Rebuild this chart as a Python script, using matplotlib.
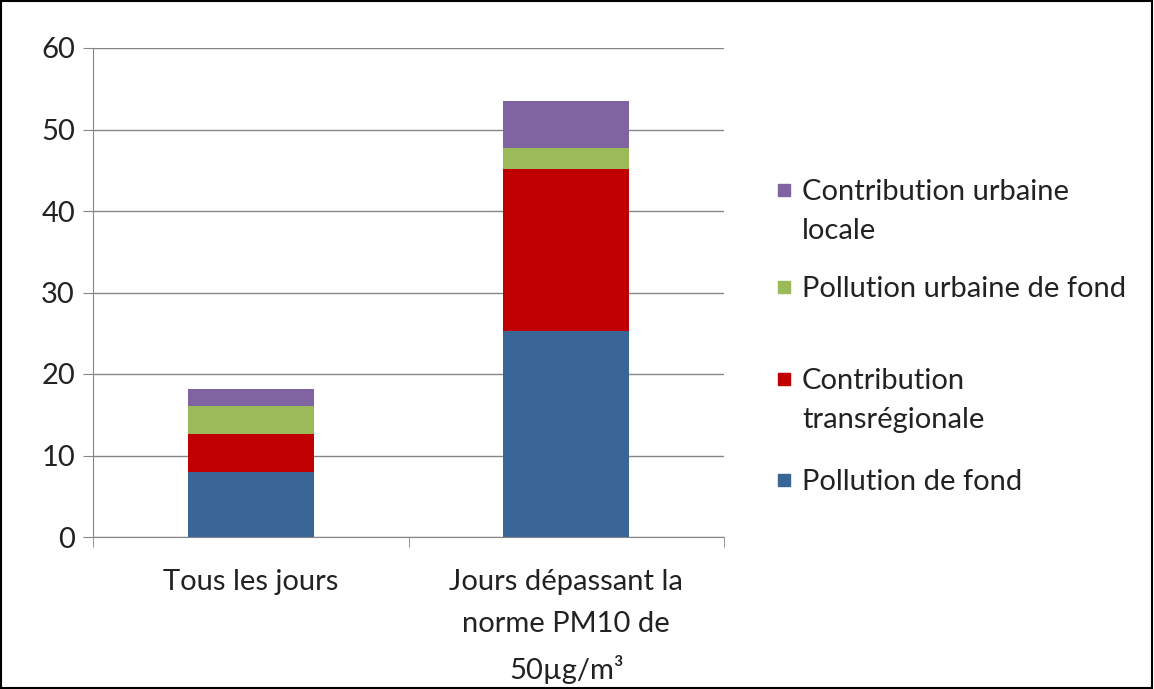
"""
Stacked bar chart: PM10 contributions, all days vs days exceeding the norm.
"""

import numpy as np
import matplotlib.pyplot as plt
from matplotlib.patches import Rectangle

categories = ['Tous les jours', 'Jours dépassant la\nnorme PM10 de\n50µg/m³']
pollution_fond = [8.0, 25.3]
contribution_transregionale = [4.6, 19.8]
pollution_urbaine_fond = [3.5, 2.6]
contribution_urbaine_locale = [2.1, 5.8]

series_names = ['Pollution de fond', 'Contribution\ntransrégionale',
                'Pollution urbaine de fond', 'Contribution urbaine\nlocale']
series_values = [pollution_fond, contribution_transregionale,
                 pollution_urbaine_fond, contribution_urbaine_locale]
colors = ['#3A6597', '#C00000', '#9BBB59', '#8064A2']
y_ticks = [0, 10, 20, 30, 40, 50, 60]

plt.rcParams['font.family'] = ['Lato', 'DejaVu Sans']
W, H = 1154, 689
FS = 21

fig = plt.figure(figsize=(W / 100, H / 100), dpi=100)
ax = fig.add_axes([93 / W, 1 - 537 / H, 631 / W, 489 / H])

x = np.arange(len(categories))
bottom = np.zeros(len(categories))
for name, vals, col in zip(series_names, series_values, colors):
    ax.bar(x, vals, width=0.40, bottom=bottom, color=col, label=name)
    bottom += np.array(vals)

ax.set_xlim(-0.5, 1.5)
ax.set_ylim(0, 60)
ax.set_yticks(y_ticks)
ax.yaxis.grid(True, color='#868686', linewidth=1.0)
ax.set_axisbelow(True)
for side in ['top', 'right']:
    ax.spines[side].set_visible(False)
ax.spines['left'].set_color('#868686')
ax.spines['bottom'].set_color('#868686')
ax.tick_params(axis='y', length=7, color='#868686', labelsize=FS, pad=6,
               labelcolor='#222222')
ax.set_xticks(x)
ax.set_xticklabels(categories, fontsize=FS, linespacing=1.75, color='#222222')
ax.set_xticks([-0.5, 0.5, 1.5], minor=True)
ax.tick_params(axis='x', which='major', length=0, pad=23)
ax.tick_params(axis='x', which='minor', length=7.5, color='#868686')

# legend, reversed order, placed by hand like the Excel layout
leg_y = [480, 379, 287, 190]  # pixel row of each entry's first line
for name, col, yp in zip(series_names, colors, leg_y):
    fig.patches.append(Rectangle((778 / W, 1 - (yp + 6) / H), 12 / W, 12 / H,
                                 transform=fig.transFigure, color=col))
    fig.text(802 / W, 1 - (yp - 11) / H, name, fontsize=FS, va='top',
             color='#222222', linespacing=1.6, transform=fig.transFigure)

fig.patches.append(Rectangle((0.001, 0.002), 0.997, 0.996, transform=fig.transFigure,
                             fill=False, edgecolor='black', linewidth=1.5))

plt.savefig('out.png', dpi=100)
